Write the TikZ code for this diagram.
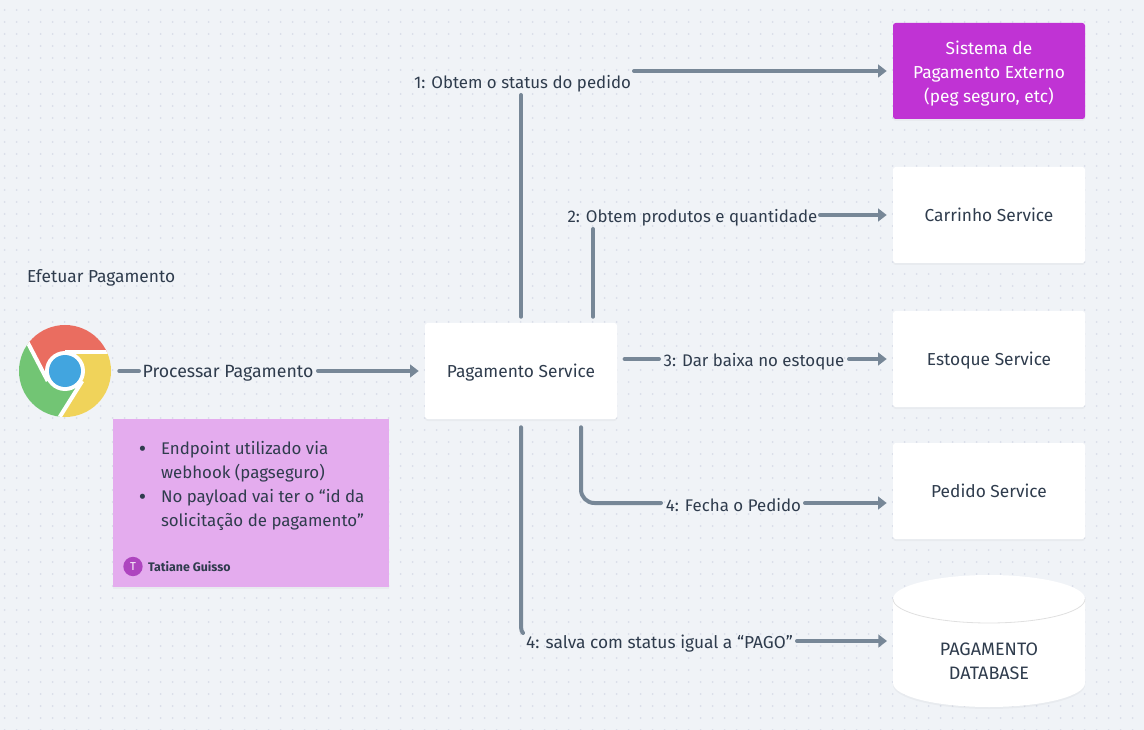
\documentclass[tikz,border=0pt]{standalone}
\usepackage{fontspec}
\setmainfont{Fira Sans}
\usetikzlibrary{arrows.meta,shadows}
\definecolor{bgc}{HTML}{F0F3F7}
\definecolor{dotc}{HTML}{D9DDE9}
\definecolor{linec}{HTML}{778797}
\definecolor{textc}{HTML}{2F3C4D}
\definecolor{purp}{HTML}{C033D4}
\definecolor{notec}{HTML}{E4ACEE}
\definecolor{avat}{HTML}{AE45BF}
\definecolor{gred}{HTML}{EA6D60}
\definecolor{ggreen}{HTML}{72C574}
\definecolor{gyellow}{HTML}{F0D35A}
\definecolor{gblue}{HTML}{42A5DF}
\newcommand{\notebullet}{\llap{\raisebox{-1.4pt}{\fontsize{17}{17}\selectfont •}\hspace{11pt}}}
\tikzset{
  softshadow/.style={general shadow={fill=black,opacity=.03,shadow xshift=0pt,shadow yshift=-1.5pt}},
  svcbox/.style={draw=none,fill=white,minimum width=144pt,minimum height=72pt,inner sep=0pt,rounded corners=2pt,softshadow,align=center,font=\fontsize{13}{18}\selectfont,text=textc},
  oneline/.style={text height=10.4pt,text depth=0pt},
  conn/.style={draw=linec,line width=3pt,line cap=round,line join=round},
  arrowconn/.style={conn,-{Triangle[length=6.5pt,width=9.5pt]},shorten >=4.5pt},
  lbl/.style={inner sep=0pt,outer sep=0pt,font=\fontsize{13}{18}\selectfont,text=textc,align=center},
  tightlbl/.style={lbl,font=\fontsize{12.65}{18}\selectfont},
  dotrow/.style={draw=dotc,line width=1.5pt,line cap=round,dash pattern=on 0pt off 9pt},
}
\begin{document}
\begin{tikzpicture}[x=0.75pt,y=-0.75pt]
\useasboundingbox (0,0) rectangle (1144,730);
\fill[bgc] (0,0) rectangle (1144,730);
\foreach \j in {0,...,60}{\draw[dotrow] (4.7,{10+12*\j}) -- (1144,{10+12*\j});}

% Browser icon
\begin{scope}
\clip (65,371) circle[radius=46];
\fill[gred] (47.7,381) -- (10.8,310) -- (120,310) -- (120,352) -- (65,352) -- cycle;
\fill[ggreen] (47.7,381) -- (10.8,310) -- (0,310) -- (0,430) -- (51.5,430) -- (82.3,381) -- cycle;
\fill[gyellow] (82.3,381) -- (51.5,430) -- (120,430) -- (120,352) -- (65,352) -- cycle;
\draw[white,line width=3pt] (65,352) -- (120,352);
\draw[white,line width=3pt] (47.7,381) -- (10.8,310);
\draw[white,line width=3pt] (82.3,381) -- (51.5,430);
\end{scope}
\fill[white] (65,371) circle[radius=20];
\fill[gblue] (65,371) circle[radius=16];
\node[circle,minimum size=81pt,inner sep=0pt] (browser) at (65,371) {};

\node[lbl,anchor=west] (title) at (27,278) {Efetuar Pagamento};

% Note
\node[fill=notec,minimum width=207pt,minimum height=126pt,inner sep=0pt,softshadow] (note) at (251,503) {};
\node[tightlbl,anchor=north west,align=left] (notetext) at (161,441) {\notebullet Endpoint utilizado via\\webhook (pagseguro)\\\notebullet No payload vai ter o “id da\\solicitação de pagamento”};
\node[circle,fill=avat,minimum size=14.5pt,inner sep=0pt,text=white,font=\fontsize{8.5}{8.5}\selectfont] (avatar) at (133,566.5) {T};
\node[lbl,anchor=west,font=\fontsize{9.3}{10}\selectfont\bfseries] (author) at (148,567) {Tatiane Guisso};

% Services
\node[svcbox,oneline] (pay) at (521,371) {Pagamento Service};
\node[svcbox,fill=purp,text=white] (ext) at (989,71) {\rule{0pt}{14pt}Sistema de\\Pagamento Externo\\(peg seguro, etc)};
\node[svcbox,oneline] (cart) at (989,215) {Carrinho Service};
\node[svcbox,oneline] (stock) at (989,359) {Estoque Service};
\node[svcbox,oneline] (order) at (989,491) {Pedido Service};

% Database
\fill[black,opacity=.03] (893,601) -- (893,685) arc[start angle=180,end angle=0,x radius=96,y radius=24] -- (1085,601) -- cycle;
\fill[white] (893,599) -- (893,683) arc[start angle=180,end angle=0,x radius=96,y radius=24] -- (1085,599) arc[start angle=0,end angle=-180,x radius=96,y radius=24] -- cycle;
\draw[black!12,line width=.6pt] (893,599) arc[start angle=180,end angle=0,x radius=96,y radius=24];
\node[lbl,font=\fontsize{13.5}{18}\selectfont,minimum width=144pt] (db) at (989,661) {PAGAMENTO\\DATABASE};

% Connector labels
\node[lbl,font=\fontsize{13.3}{18}\selectfont] (l0) at (228,373) {Processar Pagamento};
\node[tightlbl] (l1) at (522.5,83.5) {1: Obtem o status do pedido};
\node[tightlbl] (l2) at (692.5,217.5) {2: Obtem produtos e quantidade};
\node[tightlbl] (l3) at (754,361.5) {3: Dar baixa no estoque};
\node[tightlbl] (l4) at (733.5,505.5) {4: Fecha o Pedido};
\node[lbl] (l5) at (659.5,643.5) {4: salva com status igual a “PAGO”};

\coordinate (o0) at (318,371);
\coordinate (o1) at (634,71);
\coordinate (o2) at (820,215);
\coordinate (o3) at (849,359);
\coordinate (o4) at (805,503);
\coordinate (o5) at (797,641);
\coordinate (i0) at (139,371);
\coordinate (i3) at (659,359);

% Connectors
\draw[conn] (browser.east) -- (i0);
\draw[arrowconn] (o0) -- (pay.west);
\draw[conn] ([yshift=4.5pt]pay.north) -- (521,95);
\draw[arrowconn] (o1) -- (o1 -| ext.west);
\draw[conn] ([xshift=54pt,yshift=4.5pt]pay.north) -- (593,229);
\draw[arrowconn] (o2) -- (o2 -| cart.west);
\draw[conn] ([xshift=5.5pt,yshift=9pt]pay.east) -- (i3);
\draw[arrowconn] (o3) -- (o3 -| stock.west);
\draw[conn,rounded corners=10pt] ([xshift=45pt,yshift=-6pt]pay.south) -- (581,503) -- (661,503);
\draw[arrowconn] (o4) -- (o4 -| order.west);
\draw[conn] ([yshift=-6pt]pay.south) -- (521,627) .. controls (521,630) and (522,632) .. (523,633);
\draw[arrowconn] (o5) -- (o5 -| db.west);
\end{tikzpicture}
\end{document}
